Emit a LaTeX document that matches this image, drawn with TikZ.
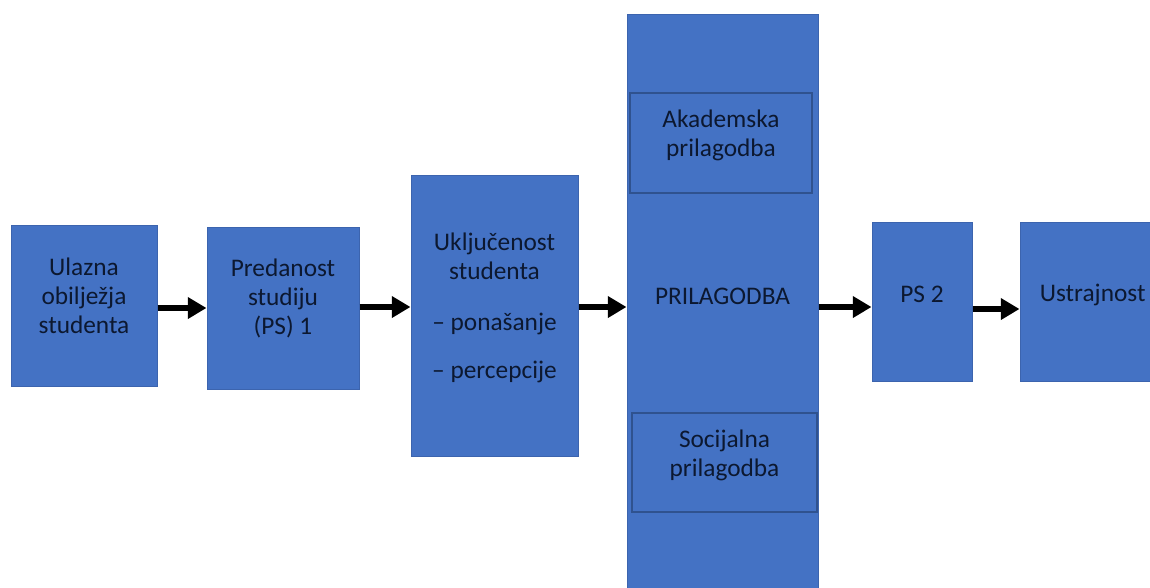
\documentclass[tikz,border=0pt]{standalone}
\usepackage{fontspec}
\setmainfont{Carlito}
\usetikzlibrary{arrows.meta}

\definecolor{boxblue}{HTML}{4472C4}
\definecolor{boxline}{HTML}{3C64AE}
\definecolor{inline}{HTML}{2F528F}
\definecolor{navy}{HTML}{0C1830}

\begin{document}
\begin{tikzpicture}[x=0.75pt,y=-0.75pt,
	blk/.style={draw=boxline,line width=0.75pt,fill=boxblue,inner sep=0pt},
	sub/.style={blk,draw=inline,line width=1pt},
	lbl/.style={align=center,text=navy,font=\fontsize{19}{21.75}\selectfont},
	arr/.style={line width=5pt,-{Triangle[length=14pt,width=15.5pt]}}]
	\useasboundingbox (0,0) rectangle (1150,587);
	\clip (0,0) rectangle (1150,587);

	\node[blk,minimum width=146*0.75pt,minimum height=161*0.75pt,
		label={[lbl,yshift=7pt]center:Ulazna\\obilježja\\studenta}] (ul) at (84,305.5) {};
	\node[blk,minimum width=152*0.75pt,minimum height=162*0.75pt,
		label={[lbl,yshift=7.5pt]center:Predanost\\studiju\\(PS) 1}] (pr) at (283,308) {};
	\node[blk,minimum width=167*0.75pt,minimum height=281*0.75pt,
		label={[lbl,yshift=6pt]center:Uključenost\\studenta\\[16.5pt]– ponašanje\\[14.25pt]– percepcije}] (uk) at (494.5,315.5) {};

	%big column with the two parts
	\node[blk,minimum width=191*0.75pt,minimum height=586*0.75pt,
		label={[lbl,yshift=8pt]center:PRILAGODBA}] (pg) at (722.5,307) {};
	\node[sub,minimum width=182*0.75pt,minimum height=100*0.75pt,
		label={[lbl,yshift=5.5pt]center:Akademska\\prilagodba}] (ak) at (721,143) {};
	\node[sub,minimum width=185*0.75pt,minimum height=99*0.75pt,
		label={[lbl,yshift=5pt]center:Socijalna\\prilagodba}] (so) at (724.5,462.5) {};

	\node[blk,minimum width=100*0.75pt,minimum height=159*0.75pt,
		label={[lbl,yshift=5pt]center:PS 2}] (ps) at (922,301.5) {};
	\node[blk,minimum width=140*0.75pt,minimum height=159*0.75pt,
		label={[lbl,yshift=5pt,xshift=2pt]center:Ustrajnost}] (us) at (1090,301.5) {};

	\foreach \a/\b/\y in {ul/pr/308,pr/uk/307,uk/pg/307,pg/ps/307,ps/us/309}{
	\draw[arr] (\a.east |- 0,\y) -- (\b.west |- 0,\y);
	}
\end{tikzpicture}
\end{document}
